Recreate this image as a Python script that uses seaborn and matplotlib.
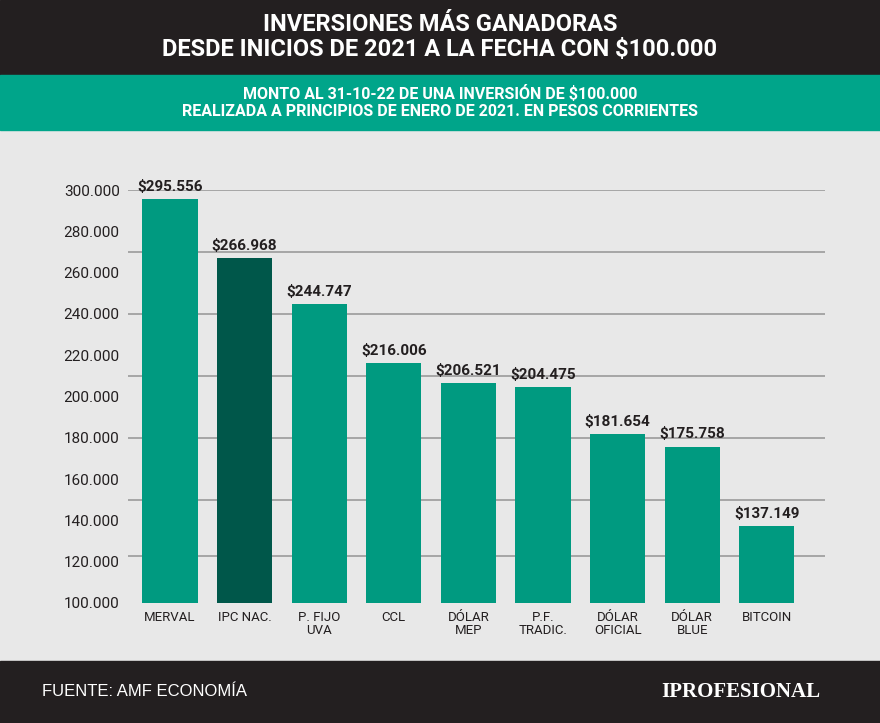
import seaborn as sns
import matplotlib.pyplot as plt
import pandas as pd

categories = ["MERVAL", "IPC NAC.", "P. FIJO\nUVA", "CCL", "DÓLAR\nMEP", "P.F.\nTRADIC.",
              "DÓLAR\nOFICIAL", "DÓLAR\nBLUE", "BITCOIN"]
values = [295556, 266968, 244747, 216006, 206521, 204475, 181654, 175758, 137149]
value_labels = ["$295.556", "$266.968", "$244.747", "$216.006", "$206.521", "$204.475",
                "$181.654", "$175.758", "$137.149"]
yticks = list(range(100000, 300001, 20000))

teal = "#009a80"
dark = "#00574a"
bg = "#e8e8e8"

fig = plt.figure(figsize=(8.8, 7.23), dpi=100)
fig.patch.set_facecolor(bg)

# banners
fig.patches.append(plt.Rectangle((0, 1 - 75 / 723), 1, 75 / 723, transform=fig.transFigure,
                                 color="#231f20", zorder=0))
fig.patches.append(plt.Rectangle((0, 1 - 130 / 723), 1, 55 / 723, transform=fig.transFigure,
                                 color="#00a58a", zorder=0))
fig.patches.append(plt.Rectangle((0, 0), 1, 62 / 723, transform=fig.transFigure,
                                 color="#231f20", zorder=0))
fig.text(0.5, 1 - 37 / 723, "INVERSIONES MÁS GANADORAS\nDESDE INICIOS DE 2021 A LA FECHA CON $100.000",
         ha="center", va="center", color="white", fontsize=17, fontweight="bold",
         fontfamily="Roboto", linespacing=1.1)
fig.text(0.5, 1 - 102 / 723, "MONTO AL 31-10-22 DE UNA INVERSIÓN DE $100.000\n"
         "REALIZADA A PRINCIPIOS DE ENERO DE 2021. EN PESOS CORRIENTES",
         ha="center", va="center", color="white", fontsize=11.5, fontweight="bold",
         fontfamily="Roboto", linespacing=1.15)
fig.text(42 / 880, 31 / 723, "FUENTE: AMF ECONOMÍA", ha="left", va="center", color="white",
         fontsize=12, fontfamily="Liberation Sans")
fig.text(820 / 880, 31 / 723, "IPROFESIONAL", ha="right", va="center", color="white",
         fontsize=15, fontweight="bold", fontfamily="Liberation Serif")

ax = fig.add_axes([128 / 880, 1 - 603 / 723, (825 - 128) / 880, (603 - 190) / 723])
ax.set_facecolor(bg)
df = pd.DataFrame({"cat": categories, "val": values})
palette = [dark if c == "IPC NAC." else teal for c in categories]
sns.barplot(data=df, x="cat", y="val", hue="cat", palette=palette, legend=False,
            width=0.74, saturation=1, ax=ax, zorder=3)
ax.set_ylim(100000, 300000)
ax.set_xlim(-0.563, 8.78)
for y in [300000, 270000, 240000, 210000, 180000, 150000, 123000]:
    ax.axhline(y, color="#9a9a9a", lw=1.2, zorder=1)
for i, (v, lab) in enumerate(zip(values, value_labels)):
    ax.text(i, v + 2500, lab, ha="center", va="bottom", fontsize=11, fontweight="bold",
            color="#231f20", fontfamily="Roboto")
ax.set_yticks(yticks)
ax.set_yticklabels([f"{t:,}".replace(",", ".") for t in yticks], fontsize=11,
                   fontfamily="Roboto", color="#231f20")
ax.set_xticks(range(len(categories)))
ax.set_xticklabels(categories, fontsize=9.5, fontfamily="Roboto", color="#231f20",
                   linespacing=1.0)
ax.tick_params(length=0, pad=6)
ax.set_xlabel("")
ax.set_ylabel("")
for s in ax.spines.values():
    s.set_visible(False)

fig.savefig("out.png", dpi=100, facecolor=bg)
